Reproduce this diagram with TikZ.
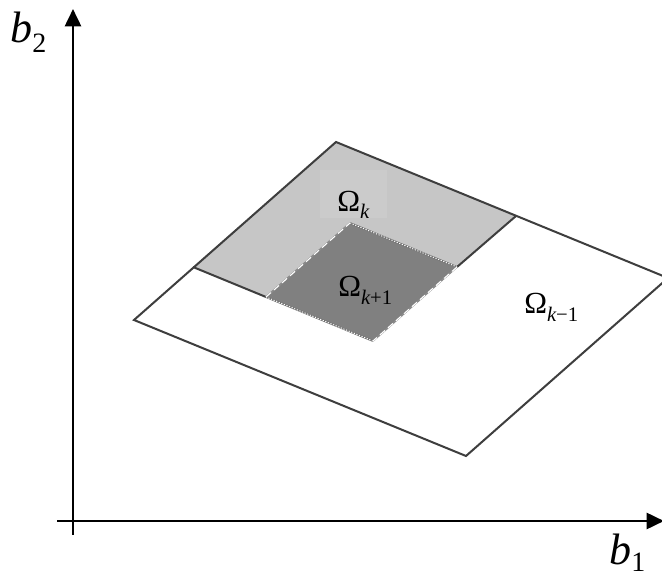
\documentclass[tikz,border=0pt]{standalone}
\usepackage{fontspec}
\setmainfont{Liberation Serif}
\usetikzlibrary{arrows.meta}
\definecolor{lightfill}{RGB}{198,198,198}
\definecolor{boxfill}{RGB}{203,203,203}
\definecolor{darkfill}{RGB}{128,128,128}
\definecolor{edgecol}{RGB}{62,62,62}
\begin{document}
\begin{tikzpicture}[x=0.75pt,y=-0.75pt,
  edge/.style={draw=edgecol, line width=1.5pt, line join=miter},
  axis/.style={line width=2pt, line cap=butt, -{Triangle[length=13pt,width=12pt]}},
  omega/.style={font=\fontsize{23}{23}\selectfont, inner sep=0pt, anchor=base west},
  blabel/.style={font=\fontsize{33}{33}\selectfont, inner sep=0pt, anchor=base west},
]
\useasboundingbox (0,0) rectangle (662,581);
\fill[white] (0,0) rectangle (662,581);

% axes
\coordinate (vbot) at (73,535);
\coordinate (vtop) at (73,9);
\coordinate (hleft) at (57,521);
\coordinate (hright) at (664,521);
\draw[axis] (vbot) -- (vtop);
\draw[axis] (hleft) -- (hright);

% region corners
\coordinate (L) at (134,320);
\coordinate (T) at (336,142);
\coordinate (B) at (466,456);
\coordinate (R) at (668,278);
\coordinate (Lg) at (193,267);
\coordinate (Rg) at (516,216);
\coordinate (Bg) at (373,341);
\coordinate (Dl) at (266,297);
\coordinate (Dr) at (457,267);
\coordinate (Dt) at (350,223);

\fill[white] (L) -- (T) -- (R) -- (B) -- cycle;
\fill[lightfill] (Lg) -- (T) -- (Rg) -- (Bg) -- cycle;
\fill[boxfill] (320,170) rectangle (387,218);
\fill[darkfill] (Dl) -- (Dt) -- (Dr) -- (Bg) -- cycle;

\draw[edge] (L) -- (T) -- (R) -- (B) -- cycle;
\draw[edge] (Lg) -- (Dl);
\draw[edge] (Rg) -- (Dr);

% dashed / dotted border of the inner square
\draw[black!55, line width=1.4pt] (Dt) -- (Dr) (Bg) -- (Dl);
\draw[white, line width=0.7pt, dash pattern=on 0.9pt off 1.2pt] (Dt) -- (Dr) (Bg) -- (Dl);
\draw[black!45, line width=1.2pt] (Dl) -- (Dt) (Dr) -- (Bg);
\draw[white, line width=0.8pt, dash pattern=on 5pt off 3pt] (Dl) -- (Dt) (Dr) -- (Bg);

% labels
\node[omega] (ok) at (337,212) {Ω\raisebox{-5pt}{\fontsize{15.5}{15.5}\selectfont\itshape k}};
\node[omega] (okp) at (338,297) {Ω\raisebox{-6pt}{\fontsize{15.5}{15.5}\selectfont\itshape k\upshape +1}};
\node[omega] (okm) at (524,314) {Ω\raisebox{-6pt}{\fontsize{15.5}{15.5}\selectfont\itshape k\upshape −1}};
\node[blabel] (b2) at (10,43) {\itshape b\raisebox{-7pt}{\fontsize{21}{21}\selectfont\upshape 2}};
\node[blabel] (b1) at (609,565) {\itshape b\raisebox{-5pt}{\fontsize{21}{21}\selectfont\upshape 1}};
\end{tikzpicture}
\end{document}
